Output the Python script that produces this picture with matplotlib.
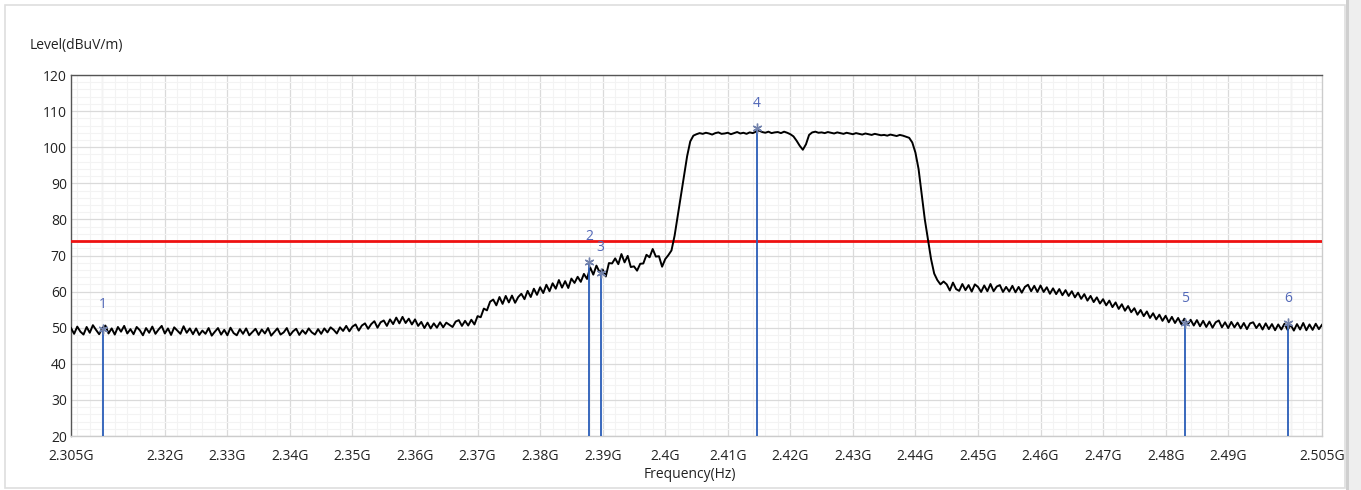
import numpy as np
import matplotlib

matplotlib.use('Agg')
import matplotlib.pyplot as plt
from matplotlib.patches import Rectangle
from matplotlib.ticker import MultipleLocator

plt.rcParams['font.family'] = ['Open Sans', 'DejaVu Sans']

# 频率起止 (GHz) 和步进
freq_start = 2.305
freq_stop = 2.505
freq_step = 0.0005

# 扫描数据 dBuV/m, 每行 10MHz (20 点)
level = [
    49.9, 48.3, 50.3, 48.9, 48.1, 50.2, 48.6, 50.7, 49.4, 48.2, 49.9, 50.6, 48.4, 49.8, 48.1, 50.2, 48.9, 50.5, 48.4, 49.6,
    48.2, 50.2, 49.3, 47.9, 49.9, 48.6, 50.3, 48.3, 49.5, 50.5, 48.4, 49.8, 48.0, 50.1, 49.2, 48.3, 50.4, 48.6, 49.8, 48.2,
    49.8, 48.0, 49.2, 48.3, 49.9, 47.8, 48.9, 49.9, 48.1, 49.4, 47.9, 50.0, 48.5, 47.9, 49.6, 48.3, 49.8, 47.9, 48.8, 49.7,
    48.0, 49.5, 48.4, 49.9, 47.8, 48.8, 49.8, 48.1, 48.7, 49.9, 47.9, 49.0, 49.7, 48.0, 49.3, 48.3, 49.8, 48.7, 48.1, 49.6,
    48.3, 49.8, 48.7, 50.1, 49.4, 48.4, 50.1, 49.1, 50.5, 49.0, 50.3, 50.9, 49.2, 50.6, 51.2, 49.7, 51.0, 51.8, 50.0, 51.5,
    52.0, 50.5, 52.3, 51.0, 52.8, 51.2, 53.0, 51.3, 52.5, 50.9, 52.3, 50.5, 51.6, 49.9, 51.4, 49.8, 51.2, 50.0, 51.5, 50.1,
    51.4, 50.8, 50.2, 51.7, 52.1, 50.5, 51.9, 50.6, 52.2, 50.9, 53.2, 52.9, 55.3, 54.8, 57.2, 57.8, 56.2, 58.5, 56.6, 58.8,
    57.0, 58.9, 56.9, 58.5, 59.4, 57.9, 60.2, 58.5, 60.8, 59.1, 61.2, 59.6, 61.9, 60.1, 62.3, 60.8, 63.2, 61.1, 62.9, 61.0,
    63.6, 62.4, 64.1, 62.7, 64.9, 63.5, 66.7, 64.7, 67.2, 65.4, 66.1, 64.2, 67.9, 67.8, 69.2, 67.6, 70.4, 68.1, 69.9, 66.8,
    67.0, 65.8, 67.7, 67.8, 70.2, 69.5, 71.8, 69.7, 69.8, 66.9, 69.0, 70.1, 71.4, 75.5, 81.0, 86.5, 92.0, 97.5, 101.6, 103.2,
    103.6, 103.9, 103.7, 104.0, 103.8, 103.5, 103.9, 104.1, 103.7, 103.8, 104.0, 103.6, 103.9, 104.2, 103.8, 104.0, 103.7, 104.1, 103.9, 104.3,
    104.6, 104.2, 104.0, 104.3, 103.9, 104.1, 104.2, 103.9, 104.3, 104.0, 103.6, 103.0, 101.8, 100.4, 99.3, 100.8, 103.4, 104.1, 104.3, 104.0,
    104.1, 103.9, 104.2, 104.0, 103.8, 104.1, 103.9, 103.7, 104.0, 103.8, 103.6, 103.9, 103.7, 103.5, 103.8, 103.6, 103.4, 103.7, 103.5, 103.3,
    103.4, 103.2, 103.5, 103.3, 103.1, 103.4, 103.2, 102.9, 102.6, 101.3, 98.5, 94.0, 87.0, 80.0, 74.5, 69.0, 65.0, 63.2, 62.0, 62.8,
    62.0, 60.3, 62.5, 60.7, 60.2, 62.1, 60.4, 61.8, 60.0, 62.0, 61.3, 59.9, 61.7, 60.1, 62.1, 60.1, 61.4, 61.8, 59.9, 61.3,
    60.0, 61.6, 59.8, 61.3, 59.7, 61.3, 61.9, 60.1, 61.6, 59.9, 61.7, 59.9, 61.2, 59.4, 60.9, 59.3, 60.7, 59.0, 60.4, 58.8,
    60.1, 58.4, 59.7, 58.0, 59.3, 57.5, 58.8, 57.1, 58.4, 56.7, 57.9, 56.2, 57.5, 55.7, 57.0, 55.2, 56.5, 54.7, 56.0, 54.3,
    55.4, 53.6, 54.9, 53.2, 54.5, 52.7, 54.0, 52.3, 53.6, 51.9, 53.3, 51.5, 53.0, 51.3, 52.7, 51.0, 52.5, 50.8, 52.2, 50.6,
    52.1, 50.4, 51.9, 50.2, 51.7, 50.0, 51.5, 52.0, 50.1, 51.5, 49.9, 51.6, 50.1, 51.4, 49.8, 51.3, 49.6, 51.2, 51.5, 49.9,
    51.1, 49.5, 51.2, 49.6, 51.0, 49.3, 50.9, 49.5, 51.1, 49.4, 50.8, 49.2, 51.0, 49.5, 51.3, 49.3, 50.9, 49.4, 51.1, 49.6,
    50.8,
]

# 限值线
limit_level = 74

# 标记点
marker_ids = ['1', '2', '3', '4', '5', '6']
marker_freq = [2.3101, 2.3878, 2.3897, 2.4147, 2.4831, 2.4996]
marker_level = [49.6, 68.2, 65.2, 105.2, 51.3, 51.2]

# x 轴刻度
xtick_vals = [2.305, 2.32, 2.33, 2.34, 2.35, 2.36, 2.37, 2.38, 2.39, 2.40, 2.41,
              2.42, 2.43, 2.44, 2.45, 2.46, 2.47, 2.48, 2.49, 2.505]
xtick_labels = ['2.305G', '2.32G', '2.33G', '2.34G', '2.35G', '2.36G', '2.37G', '2.38G', '2.39G', '2.4G',
                '2.41G', '2.42G', '2.43G', '2.44G', '2.45G', '2.46G', '2.47G', '2.48G', '2.49G', '2.505G']

freq = freq_start + freq_step * np.arange(len(level))

fig = plt.figure(figsize=(13.61, 4.90), dpi=100)
fig.patch.set_facecolor('white')

# 外框和右侧灰条
fig.patches.append(Rectangle((5 / 1361, 2 / 490), 1340 / 1361, 483 / 490, transform=fig.transFigure,
                             fill=False, edgecolor='#dedede', linewidth=1.2))
fig.patches.append(Rectangle((1346 / 1361, 0), 15 / 1361, 1, transform=fig.transFigure,
                             facecolor='#eeeeee', edgecolor='none'))
fig.patches.append(Rectangle((1346 / 1361, 0), 3 / 1361, 1, transform=fig.transFigure,
                             facecolor='#cfcfcf', edgecolor='none'))

ax = fig.add_axes((71 / 1361, 1 - 436 / 490, 1251 / 1361, 361 / 490))
ax.set_xlim(freq_start, freq_stop)
ax.set_ylim(20, 120)

# 网格: 主网格画在 10MHz 整数处
ax.xaxis.set_minor_locator(MultipleLocator(0.002))
ax.yaxis.set_major_locator(MultipleLocator(10))
ax.yaxis.set_minor_locator(MultipleLocator(2))
ax.grid(True, which='minor', color='#f3f3f3', linewidth=0.8)
ax.grid(True, which='major', axis='y', color='#dadada', linewidth=0.9)
for gx in np.arange(2.31, 2.5051, 0.01):
    ax.axvline(gx, color='#dadada', linewidth=0.9, zorder=0.5)
ax.set_axisbelow(True)

# 刻度标签
ax.set_xticks(xtick_vals, xtick_labels, minor=False)
ax.tick_params(axis='both', which='both', length=0, labelsize=10, colors='#222222')
ax.tick_params(axis='x', pad=9)
ax.tick_params(axis='y', pad=3)

for s in ['left', 'top']:
    ax.spines[s].set_color('#555555')
    ax.spines[s].set_linewidth(1.0)
for s in ['right', 'bottom']:
    ax.spines[s].set_color('#cccccc')
    ax.spines[s].set_linewidth(1.0)

# 限值线
ax.axhline(limit_level, color='#ee1111', linewidth=2.0, zorder=3)

# 扫描曲线
ax.plot(freq, level, color='black', linewidth=1.4, zorder=4)

# 标记
for mid, mf, ml in zip(marker_ids, marker_freq, marker_level):
    ax.vlines(mf, 20, ml, color='#2a5db8', linewidth=1.3, zorder=5)
    ax.plot(mf, ml, marker=(6, 2, 0), markersize=7, color='#7282ac', markeredgewidth=1.0, zorder=6)
    ax.annotate(mid, (mf, ml), xytext=(0, 18), textcoords='offset points', ha='center', va='center',
                fontsize=10, color='#5268b8', zorder=6)

fig.text(30 / 1361, 1 - 45 / 490, 'Level(dBuV/m)', fontsize=10, color='#222222', va='center', ha='left')
fig.text(690 / 1361, 1 - 474 / 490, 'Frequency(Hz)', fontsize=10, color='#222222', va='center', ha='center')

plt.savefig('out.png', dpi=100)
